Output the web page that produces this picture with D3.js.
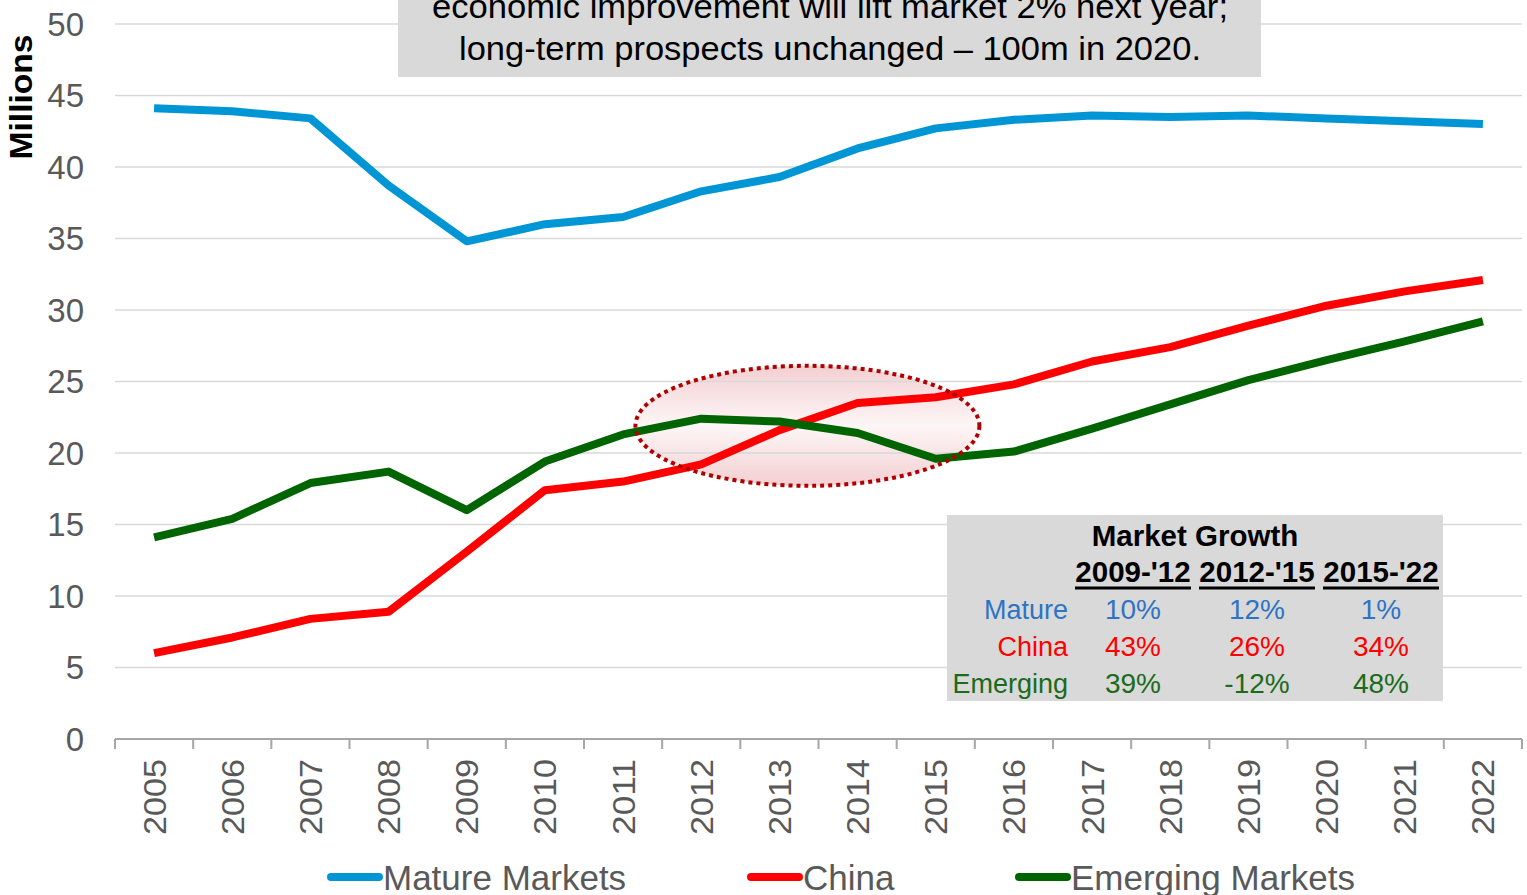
<!DOCTYPE html>
<html>
<head>
<meta charset="utf-8">
<script src="https://cdn.jsdelivr.net/npm/d3@7"></script>
<style>
  body { margin: 0; background: #fff; }
  svg { display: block; font-family: "Liberation Sans", Arial, sans-serif; }
</style>
</head>
<body>
<svg id="chart" width="1527" height="895"></svg>
<script>
// data
var years = ['2005','2006','2007','2008','2009','2010','2011','2012','2013','2014','2015','2016','2017','2018','2019','2020','2021','2022'];
var mature = [44.1, 43.9, 43.4, 38.7, 34.8, 36.0, 36.5, 38.3, 39.3, 41.3, 42.7, 43.3, 43.6, 43.5, 43.6, 43.4, 43.2, 43.0];
var china = [6.0, 7.1, 8.4, 8.9, 13.1, 17.4, 18.0, 19.2, 21.6, 23.5, 23.9, 24.8, 26.4, 27.4, 28.9, 30.3, 31.3, 32.1];
var emerging = [14.1, 15.4, 17.9, 18.7, 16.0, 19.4, 21.3, 22.4, 22.2, 21.4, 19.6, 20.1, 21.7, 23.4, 25.1, 26.5, 27.8, 29.2];
var yTicks = [0, 5, 10, 15, 20, 25, 30, 35, 40, 45, 50];
var seriesNames = ['Mature Markets', 'China', 'Emerging Markets'];
var seriesColors = ['#0096d6', '#ff0000', '#006400'];

var tableTitle = 'Market Growth';
var tablePeriods = ["2009-'12", "2012-'15", "2015-'22"];
var tableRows = ['Mature', 'China', 'Emerging'];
var tableColors = ['#2f73c4', '#ff0000', '#1a6b1a'];
var tableValues = [['10%', '12%', '1%'], ['43%', '26%', '34%'], ['39%', '-12%', '48%']];

var titleLines = ['economic improvement will lift market 2% next year;', 'long-term prospects unchanged \u2013 100m in 2020.'];

var svg = d3.select('svg#chart');
var plotLeft = 115, plotRight = 1522, plotTop = 24, plotBottom = 739;

var x = d3.scaleBand().domain(years).range([plotLeft, plotRight]);
var y = d3.scaleLinear().domain([0, 50]).range([plotBottom, plotTop]);

// highlight ellipse fill goes first so gridlines show through it
var defs = svg.append('defs');
var grad = defs.append('linearGradient')
	.attr('id', 'pinkfade')
	.attr('x1', 0).attr('y1', 0).attr('x2', 0).attr('y2', 1);
grad.append('stop').attr('offset', '0%').attr('stop-color', '#f3cfd2');
grad.append('stop').attr('offset', '50%').attr('stop-color', '#fdf6f6');
grad.append('stop').attr('offset', '100%').attr('stop-color', '#f3cfd2');

var ell = {
	cx: x('2013') + x.bandwidth() / 2 + 28,
	cy: y(21.9),
	rx: 172,
	ry: 60
};

svg.append('ellipse')
	.attr('cx', ell.cx).attr('cy', ell.cy)
	.attr('rx', ell.rx).attr('ry', ell.ry)
	.style('fill', 'url(#pinkfade)');

// gridlines
svg.append('g')
	.selectAll('line')
	.data(yTicks.filter(function (d) { return d > 0; }))
	.enter()
	.append('line')
	.attr('x1', plotLeft).attr('x2', plotRight)
	.attr('y1', function (d) { return y(d); })
	.attr('y2', function (d) { return y(d); })
	.style('stroke', '#d9d9d9')
	.style('stroke-width', 1.5);

// y labels
svg.append('g')
	.selectAll('text')
	.data(yTicks)
	.enter()
	.append('text')
	.attr('x', 84)
	.attr('y', function (d) { return y(d); })
	.attr('dy', '0.36em')
	.attr('text-anchor', 'end')
	.style('font-size', '33px')
	.style('fill', '#595959')
	.text(function (d) { return d; });

svg.append('text')
	.attr('transform', 'translate(32,97) rotate(-90)')
	.attr('text-anchor', 'middle')
	.attr('textLength', 125)
	.attr('lengthAdjust', 'spacingAndGlyphs')
	.style('font-size', '32px')
	.style('font-weight', 'bold')
	.style('fill', '#000')
	.text('Millions');

// x axis
var xAxis = svg.append('g').attr('transform', 'translate(0,' + plotBottom + ')');
xAxis.append('line')
	.attr('x1', plotLeft).attr('x2', plotRight)
	.style('stroke', '#a6a6a6').style('stroke-width', 2);
xAxis.selectAll('line.tick')
	.data(years.concat(['end']))
	.enter()
	.append('line')
	.attr('class', 'tick')
	.attr('x1', function (d, i) { return plotLeft + i * x.step(); })
	.attr('x2', function (d, i) { return plotLeft + i * x.step(); })
	.attr('y1', 0).attr('y2', 10)
	.style('stroke', '#a6a6a6').style('stroke-width', 2);
xAxis.selectAll('text')
	.data(years)
	.enter()
	.append('text')
	.attr('transform', function (d) {
		return 'translate(' + (x(d) + x.bandwidth() / 2) + ',20) rotate(-90)';
	})
	.attr('dy', '0.36em')
	.attr('text-anchor', 'end')
	.attr('textLength', 76)
	.attr('lengthAdjust', 'spacingAndGlyphs')
	.style('font-size', '32px')
	.style('fill', '#595959')
	.text(function (d) { return d; });

// lines
var line = d3.line()
	.x(function (d, i) { return x(years[i]) + x.bandwidth() / 2; })
	.y(function (d) { return y(d); });

svg.append('g')
	.selectAll('path')
	.data([mature, china, emerging])
	.enter()
	.append('path')
	.attr('d', line)
	.style('fill', 'none')
	.style('stroke', function (d, i) { return seriesColors[i]; })
	.style('stroke-width', 8)
	.style('stroke-linejoin', 'round');

// dotted rim over the lines
svg.append('ellipse')
	.attr('cx', ell.cx).attr('cy', ell.cy)
	.attr('rx', ell.rx).attr('ry', ell.ry)
	.style('fill', 'none')
	.style('stroke', '#b00000')
	.style('stroke-width', 4)
	.style('stroke-dasharray', '4,4');

// title box
svg.append('rect')
	.attr('x', 398).attr('y', -10)
	.attr('width', 863).attr('height', 87)
	.style('fill', '#d9d9d9');
svg.append('g')
	.selectAll('text')
	.data(titleLines)
	.enter()
	.append('text')
	.attr('x', 830)
	.attr('y', function (d, i) { return 18 + i * 42; })
	.attr('text-anchor', 'middle')
	.attr('textLength', function (d, i) { return i === 0 ? 796 : 742; })
	.attr('lengthAdjust', 'spacingAndGlyphs')
	.style('font-size', '34px')
	.style('fill', '#000')
	.text(function (d) { return d; });

// growth table
var cols = [1133, 1257, 1381];
var table = svg.append('g');
table.append('rect')
	.attr('x', 947).attr('y', 515)
	.attr('width', 496).attr('height', 186)
	.style('fill', '#d9d9d9');
table.append('text')
	.attr('x', 1195).attr('y', 546)
	.attr('text-anchor', 'middle')
	.style('font-size', '29.5px').style('font-weight', 'bold')
	.text(tableTitle);
table.selectAll('text.period')
	.data(tablePeriods)
	.enter()
	.append('text')
	.attr('class', 'period')
	.attr('x', function (d, i) { return cols[i]; })
	.attr('y', 582)
	.attr('text-anchor', 'middle')
	.style('font-size', '29.5px').style('font-weight', 'bold')
	.text(function (d) { return d; });
table.selectAll('line.ul')
	.data(tablePeriods)
	.enter()
	.append('line')
	.attr('class', 'ul')
	.attr('x1', function (d, i) { return cols[i] - 58; })
	.attr('x2', function (d, i) { return cols[i] + 58; })
	.attr('y1', 588).attr('y2', 588)
	.style('stroke', '#000').style('stroke-width', 3);
table.selectAll('text.rowlabel')
	.data(tableRows)
	.enter()
	.append('text')
	.attr('class', 'rowlabel')
	.attr('x', 1068)
	.attr('y', function (d, i) { return 619 + i * 37; })
	.attr('text-anchor', 'end')
	.style('font-size', '27px')
	.style('fill', function (d, i) { return tableColors[i]; })
	.text(function (d) { return d; });
tableValues.forEach(function (row, r) {
	table.selectAll('text.v' + r)
		.data(row)
		.enter()
		.append('text')
		.attr('class', 'v' + r)
		.attr('x', function (d, i) { return cols[i]; })
		.attr('y', 619 + r * 37)
		.attr('text-anchor', 'middle')
		.style('font-size', '28px')
		.style('fill', tableColors[r])
		.text(function (d) { return d; });
});

// legend
var legendX = [328, 748, 1016];
var legend = svg.append('g')
	.selectAll('g')
	.data(seriesNames)
	.enter()
	.append('g')
	.attr('transform', function (d, i) { return 'translate(' + legendX[i] + ',877)'; });
legend.append('line')
	.attr('x1', 3).attr('x2', 51)
	.style('stroke', function (d, i) { return seriesColors[i]; })
	.style('stroke-width', 8)
	.style('stroke-linecap', 'round');
legend.append('text')
	.attr('x', 55)
	.attr('dy', '0.36em')
	.style('font-size', '35px')
	.style('fill', '#595959')
	.text(function (d) { return d; });
</script>
</body>
</html>
